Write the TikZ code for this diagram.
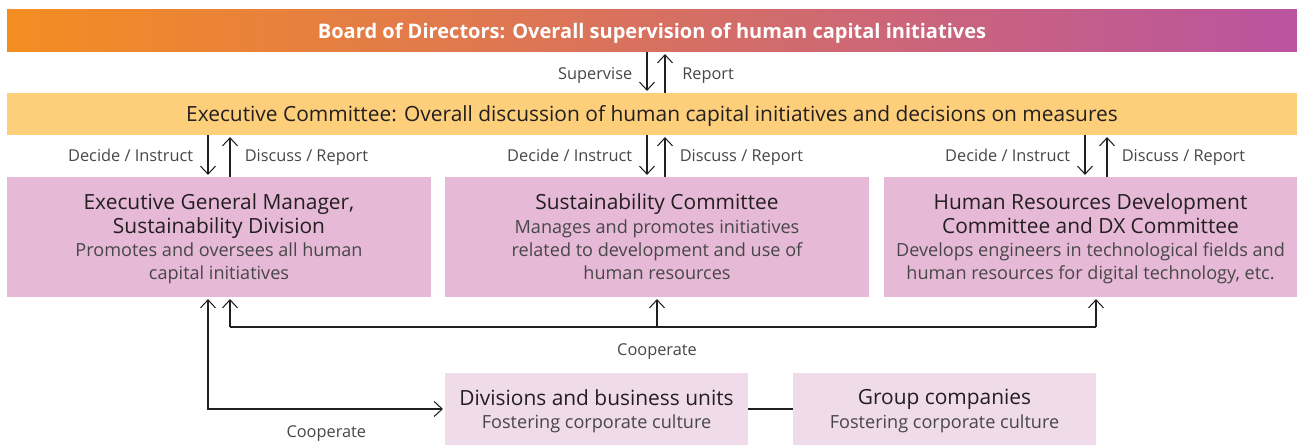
\documentclass[tikz,border=0pt]{standalone}
\usepackage{fontspec}
\setmainfont{Open Sans}
\usetikzlibrary{arrows.meta, positioning, calc}
\definecolor{boardL}{HTML}{F48D21}
\definecolor{boardR}{HTML}{BA54A0}
\definecolor{execY}{HTML}{FDCF7A}
\definecolor{unitP}{HTML}{E6B9D7}
\definecolor{unitL}{HTML}{F0DBEA}
\definecolor{inkD}{HTML}{231F20}
\definecolor{inkG}{HTML}{474747}
\newcommand{\ttl}{\fontsize{11.9}{13.3}\selectfont\color{inkD}}
\newcommand{\dsc}{\fontsize{10.3}{13.3}\selectfont\color{inkG}}

\begin{document}
\begin{tikzpicture}[
        x=0.02cm, y=-0.02cm,
        >={Straight Barb[length=1.6mm,width=3mm]},
        bar/.style={
            minimum width=25.8cm,
            minimum height=0.84cm,
            inner sep=0pt,
            text depth=0pt,
            align=center
        },
        unitbox/.style={
            fill=unitP,
            minimum height=2.4cm,
            inner sep=0pt,
            text depth=0pt,
            font=\fontsize{11.9}{13.3}\selectfont,
            align=center
        },
        subbox/.style={
            fill=unitL,
            minimum width=6.06cm,
            minimum height=1.44cm,
            inner sep=0pt,
            text depth=-2pt,
            font=\fontsize{11.9}{13.3}\selectfont,
            align=center
        },
        arr/.style={
            ->,
            draw=inkD,
            line width=0.6pt,
            shorten >=1pt
        },
        lbl/.style={font=\fontsize{9.3}{11}\selectfont, text=inkG, inner sep=1pt,
            text height=1.5ex, text depth=0.4ex}
    ]

    \useasboundingbox (0,0) rectangle (1300,445);

    \node[bar, left color=boardL, right color=boardR] (board) at (652,31)
        {\fontsize{11.4}{13}\selectfont\bfseries\color{white}Board of Directors: Overall supervision of human capital initiatives};
    \node[bar, fill=execY] (exec) at (652,114)
        {\ttl Executive Committee: Overall discussion of human capital initiatives and decisions on measures};

    \node[unitbox, minimum width=8.48cm] (gm) at (219,237)
        {\ttl Executive General Manager,\\ \ttl Sustainability Division\\
         \dsc Promotes and oversees all human\\ \dsc capital initiatives};
    \node[unitbox, minimum width=8.48cm] (sus) at (657,237)
        {\ttl Sustainability Committee\\
         \dsc Manages and promotes initiatives\\ \dsc related to development and use of\\ \dsc human resources};
    \node[unitbox, minimum width=8.26cm] (hr) at (1090.5,237)
        {\ttl Human Resources Development\\ \ttl Committee and DX Committee\\
         \dsc Develops engineers in technological fields and\\ \dsc human resources for digital technology, etc.};

    \node[subbox] (div) at (596.5,409)
        {\ttl Divisions and business units\\ \dsc Fostering corporate culture};
    \node[subbox] (grp) at (944.5,409)
        {\ttl Group companies\\ \dsc Fostering corporate culture};

    % board <-> executive committee
    \draw[arr] ([xshift=-0.1cm]board.south) -- node[lbl, left=2.5mm, yshift=-1pt] {Supervise} ([xshift=-0.1cm]exec.north);
    \draw[arr] ([xshift=0.26cm]exec.north) -- node[lbl, right=3mm, yshift=-1pt] {Report} ([xshift=0.26cm]board.south);

    % executive committee <-> units
    \draw[arr] ([xshift=-0.22cm]gm.north |- exec.south) -- node[lbl, left=2.5mm] {Decide / Instruct} ([xshift=-0.22cm]gm.north);
    \draw[arr] ([xshift=0.22cm]gm.north) -- node[lbl, right=2.5mm] {Discuss / Report} ([xshift=0.22cm]gm.north |- exec.south);
    \draw[arr] ([xshift=-0.2cm]sus.north |- exec.south) -- node[lbl, left=2.5mm] {Decide / Instruct} ([xshift=-0.2cm]sus.north);
    \draw[arr] ([xshift=0.16cm]sus.north) -- node[lbl, right=2.5mm] {Discuss / Report} ([xshift=0.16cm]sus.north |- exec.south);
    \draw[arr] ([xshift=-0.11cm]hr.north |- exec.south) -- node[lbl, left=2.5mm] {Decide / Instruct} ([xshift=-0.11cm]hr.north);
    \draw[arr] ([xshift=0.33cm]hr.north) -- node[lbl, right=2.5mm] {Discuss / Report} ([xshift=0.33cm]hr.north |- exec.south);

    % cooperation among units
    \coordinate (coopL) at (230,327);
    \coordinate (coopR) at (1096,327);
    \draw[arr] (coopL) -- (coopL |- gm.south);
    \draw[draw=inkD, line width=0.6pt] (coopL) -- (coopR);
    \draw[arr] (coopR) -- (coopR |- hr.south);
    \draw[arr] (sus.south |- coopL) -- node[lbl, pos=0, below=2.5mm] {Cooperate} (sus.south);

    % cooperation with divisions
    \draw[arr, <->, shorten <=1pt] ([xshift=-0.22cm]gm.south) |- node[lbl, pos=0.75, below=2.5mm] {Cooperate} (div.west);
    \draw[draw=inkD, line width=0.6pt] (div) -- (grp);

\end{tikzpicture}
\end{document}
